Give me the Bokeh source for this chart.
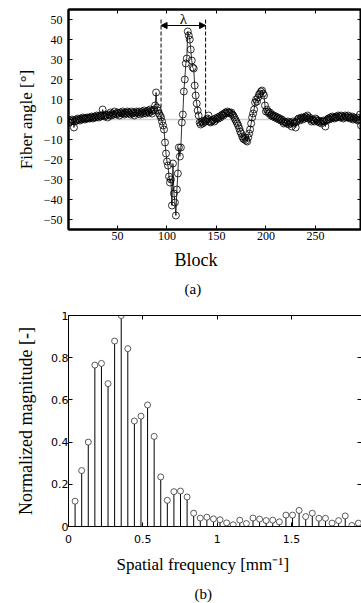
from bokeh.plotting import figure
from bokeh.models import Range1d, FixedTicker, LinearAxis, Span, Arrow, NormalHead, Title, ColumnDataSource
from bokeh.layouts import column
from bokeh.embed import file_html
from bokeh.resources import INLINE

SERIF = "Liberation Serif"
SANS = "DejaVu Sans"

# ---------------- data: (a) fiber angle per block ----------------
block = list(range(1, 297))
angle = [
    -1.5, -0.5, -1, 0, -0.5, -4, -1, 0, -0.5, 0.5,
    0, -0.5, 0.5, 0, 1, 0.5, 0, 0.5, 1, 0.5,
    1, 0.5, 1, 1.5, 0.5, 1, 1.5, 1, 2, 1.5,
    1, 2, 1.5, 2, 5, 2, 1.5, 2.5, 2, 1,
    2.5, 2, 3.5, 2, 3, 2.5, 4, 3, 2.5, 3.5,
    3, 2, 3.5, 3, 4, 3, 2.5, 3.5, 3, 4,
    3.5, 3, 2.5, 4, 3, 3.5, 2, 3, 4, 3.5,
    3, 4, 2.5, 3.5, 4, 3, 4.5, 3.5, 3, 4,
    4.5, 3.5, 5, 4, 3, 4.5, 5, 7, 13.5, 6,
    4.5, 3, 2, 1, -1, -3, -5, -11.5, -17, -21,
    -23, -28.5, -31.5, -30, -43, -22, -37, -41.5, -48, -35,
    -27, -14, -18.5, -14, -1.5, 2.5, 14, 20, 28, 30.5,
    44, 42, 40, 35, 29.5, 26, 25.5, 17, 12, 8,
    4.5, 2, -1.5, -2.5, -1, -2, -1.5, -0.5, -1, 0,
    0.5, 2, -1, -1.5, -1, -0.5, 0, -1, 0.5, 0,
    1, 0.5, 1.5, 1, 2, 2.5, 2, 3, 3.5, 3,
    4, 3.5, 3.5, 3, 3.5, 2.5, 2, 1, 0, -1,
    -2, -3, -4.5, -6, -7, -8.5, -9.5, -10, -9, -10.5,
    -11, -9, -7, -5, -2, 1, 3, 5, 8.5, 10,
    9, 11, 12.5, 13, 14, 14.5, 13, 12, 7, 4,
    5, 4, 3, 3.5, 2, 2.5, 1.5, 2, 1, 1.5,
    0.5, 1, 0, 0.5, -0.5, 0, -1, -2, -1, -1.5,
    -2, -1, -2.5, -1.5, -2, -3.5, -1, -2, -1.5, -4,
    -1, 0, 0.5, -0.5, 0.5, 1, 0, 1, 0.5, 1.5,
    1, 2, 0.5, 1, 0, -1, 0, -0.5, -1, 0.5,
    0, -1, -0.5, -1.5, -1, -2, -1, -0.5, -1, -3.5,
    -0.5, 0, 0.5, 0, 1, 0.5, 1.5, 1, 0.5, 1,
    1.5, 1, 2, 1.5, 1, 2, 1.5, 0.5, 1, 2,
    1.5, 1, 2, 1, 0.5, 1, 1.5, 0, 1, 0.5,
    0, 1, -0.5, 0, 2.5, -3,
]
lambda_x = [94, 139]          # wavelength markers (block)
lambda_top = 51
lambda_arrow_y = 47
lambda_text_y = 50.5
x_ticks_a = [50, 100, 150, 200, 250]
y_ticks_a = [-50, -40, -30, -20, -10, 0, 10, 20, 30, 40, 50]

# ---------------- data: (b) spectrum ----------------
freq_step = 0.0443
magnitude = [
    0.12, 0.265, 0.40, 0.765, 0.773, 0.677, 0.879, 1.0, 0.843, 0.50,
    0.523, 0.576, 0.427, 0.235, 0.124, 0.165, 0.168, 0.14, 0.063, 0.04,
    0.044, 0.036, 0.032, 0.017, 0.008, 0.03, 0.014, 0.04, 0.035, 0.028,
    0.03, 0.022, 0.054, 0.054, 0.076, 0.047, 0.063, 0.039, 0.039, 0.016,
    0.028, 0.05, 0.005, 0.016,
]
freq = [round((i + 1) * freq_step, 4) for i in range(len(magnitude))]
x_ticks_b = [0, 0.5, 1, 1.5, 2]
y_ticks_b = [0, 0.2, 0.4, 0.6, 0.8, 1]


def style_axis(ax, ticks, font, size, labels=True, line_w=1, standoff=4):
    ax.ticker = FixedTicker(ticks=ticks)
    ax.major_tick_in = 4
    ax.major_tick_out = 0
    ax.minor_tick_in = 0
    ax.minor_tick_out = 0
    ax.major_tick_line_color = "black"
    ax.major_tick_line_width = 1
    ax.axis_line_width = line_w
    ax.axis_line_color = "black"
    ax.major_label_text_font = font
    ax.major_label_text_font_size = size
    ax.major_label_text_color = "black"
    ax.axis_label_text_color = "black"
    if labels:
        ax.major_label_standoff = standoff
    else:
        ax.major_label_overrides = {t: "" for t in ticks}
        ax.major_label_standoff = 0


# ======================= figure (a) =======================
p1 = figure(width=361, height=304, output_backend="svg", toolbar_location=None,
            x_range=Range1d(0.5, 296.5), y_range=Range1d(-55, 55),
            min_border_left=68, min_border_right=0, min_border_top=9, min_border_bottom=75)
p1.grid.visible = False
p1.outline_line_color = "black"
p1.outline_line_width = 2
p1.background_fill_color = "white"
p1.border_fill_color = "white"

style_axis(p1.xaxis[0], x_ticks_a, SERIF, "12px", line_w=2, standoff=2)
style_axis(p1.yaxis[0], y_ticks_a, SERIF, "12px", line_w=2, standoff=6)
p1.yaxis[0].axis_label = "Fiber angle [°]"
p1.yaxis[0].axis_label_text_font = SERIF
p1.yaxis[0].axis_label_text_font_size = "17px"
p1.yaxis[0].axis_label_text_font_style = "normal"
p1.yaxis[0].axis_label_standoff = 5

top_a = LinearAxis()
style_axis(top_a, x_ticks_a, SERIF, "12px", labels=False, line_w=2)
right_a = LinearAxis()
style_axis(right_a, y_ticks_a, SERIF, "12px", labels=False, line_w=2)
p1.add_layout(top_a, "above")
p1.add_layout(right_a, "right")

p1.add_layout(Title(text="Block", align="left", offset=106, text_font=SERIF, text_color="black",
                    text_font_size="18px", text_font_style="normal", standoff=11), "below")
p1.add_layout(Title(text="(a)", align="left", offset=116, text_font=SERIF, text_color="black",
                    text_font_size="15px", text_font_style="normal", standoff=6), "below")

p1.add_layout(Span(location=0, dimension="width", line_color="#cfcfcf", line_width=1.5, level="underlay"))

src_a = ColumnDataSource(dict(block=block, angle=angle))
p1.line("block", "angle", source=src_a, line_color="black", line_width=0.8)
p1.scatter("block", "angle", source=src_a, size=7, marker="circle",
           fill_color=None, line_color="black", line_width=0.8)

src_l = ColumnDataSource(dict(x=lambda_x, y0=[0, 0], y1=[lambda_top, lambda_top]))
p1.segment(x0="x", y0="y0", x1="x", y1="y1", source=src_l, line_color="black",
           line_width=1, line_dash="4 2")
p1.add_layout(Arrow(start=NormalHead(size=6, fill_color="black", line_color="black"),
                    end=NormalHead(size=6, fill_color="black", line_color="black"),
                    x_start=lambda_x[0], x_end=lambda_x[1], y_start=lambda_arrow_y, y_end=lambda_arrow_y,
                    line_color="black", line_width=1))
src_t = ColumnDataSource(dict(x=[(lambda_x[0] + lambda_x[1]) / 2], y=[lambda_text_y], t=["λ"]))
p1.text("x", "y", text="t", source=src_t, text_align="center", text_baseline="middle",
        text_font_size="15px", text_color="black", text_font={"value": SERIF})

# ======================= figure (b) =======================
p2 = figure(width=361, height=299, output_backend="svg", toolbar_location=None,
            x_range=Range1d(0, 1.97), y_range=Range1d(0, 1),
            min_border_left=68, min_border_right=0, min_border_top=11, min_border_bottom=75)
p2.grid.visible = False
p2.outline_line_color = None
p2.background_fill_color = "white"
p2.border_fill_color = "white"

style_axis(p2.xaxis[0], x_ticks_b, SANS, "11px", line_w=1, standoff=8)
style_axis(p2.yaxis[0], y_ticks_b, SANS, "11px", line_w=1, standoff=0)
p2.xaxis[0].major_label_overrides = {0: "0", 0.5: "0.5", 1: "1", 1.5: "1.5", 2: "2"}
p2.yaxis[0].major_label_overrides = {0: "0", 0.2: "0.2", 0.4: "0.4", 0.6: "0.6", 0.8: "0.8", 1: "1"}
p2.yaxis[0].axis_label = "Normalized magnitude [-]"
p2.yaxis[0].axis_label_text_font = SERIF
p2.yaxis[0].axis_label_text_font_size = "18px"
p2.yaxis[0].axis_label_text_font_style = "normal"
p2.yaxis[0].axis_label_standoff = 12

top_b = LinearAxis()
style_axis(top_b, x_ticks_b, SANS, "11px", labels=False, line_w=1)
right_b = LinearAxis()
style_axis(right_b, y_ticks_b, SANS, "11px", labels=False, line_w=1)
right_b.axis_line_color = None
p2.add_layout(top_b, "above")
p2.add_layout(right_b, "right")

p2.add_layout(Title(text="Spatial frequency [mm⁻¹]", align="left", offset=48, text_font=SERIF,
                    text_color="black", text_font_size="17px", text_font_style="normal",
                    standoff=15), "below")
p2.add_layout(Title(text="(b)", align="left", offset=126, text_font=SERIF, text_color="black",
                    text_font_size="15px", text_font_style="normal", standoff=4), "below")

src_b = ColumnDataSource(dict(f=freq, m=magnitude, z=[0] * len(freq)))
p2.segment(x0="f", y0="z", x1="f", y1="m", source=src_b, line_color="black", line_width=1)
p2.scatter("f", "m", source=src_b, size=6, marker="circle", fill_color="white",
           line_color="#333333", line_width=0.8)

layout = column(p1, p2, spacing=0)
open("out.html", "w").write(file_html(layout, INLINE))
